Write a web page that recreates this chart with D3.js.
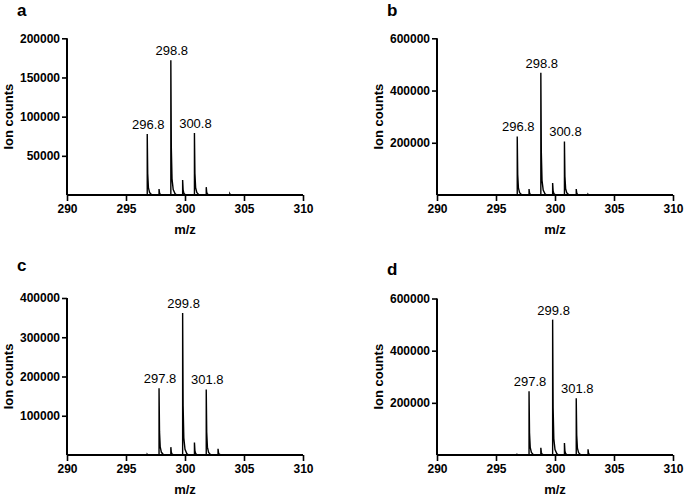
<!DOCTYPE html>
<html><head><meta charset="utf-8">
<script src="https://cdn.jsdelivr.net/npm/d3@7"></script>
<style>body{margin:0;background:#fff}svg{display:block}text{font-family:Arial,"Liberation Sans",sans-serif}</style>
</head><body><svg id="c" width="684" height="496"></svg>
<script>
const xTicks = [290, 295, 300, 305, 310];
const mzA = [296.8, 297.8, 298.8, 299.8, 300.8, 301.8, 303.8];
const intA = [78000, 7700, 172000, 19000, 79000, 10000, 1500];
const mzB = [296.8, 297.8, 298.8, 299.8, 300.8, 301.8, 302.8];
const intB = [224000, 23000, 468000, 46000, 205000, 23000, 3000];
const mzC = [296.8, 297.8, 298.8, 299.8, 300.8, 301.8, 302.8];
const intC = [2000, 170000, 20000, 362000, 32000, 167000, 16000];
const mzD = [296.8, 297.8, 298.8, 299.8, 300.8, 301.8, 302.8];
const intD = [2000, 244000, 28000, 519000, 46000, 218000, 22000];
const labelsA = ["296.8", "298.8", "300.8"];
const labelsB = ["296.8", "298.8", "300.8"];
const labelsC = ["297.8", "299.8", "301.8"];
const labelsD = ["297.8", "299.8", "301.8"];
const yTicksA = [50000, 100000, 150000, 200000];
const yTicksB = [200000, 400000, 600000];
const yTicksC = [100000, 200000, 300000, 400000];
const yTicksD = [200000, 400000, 600000];
const yMaxes = [200000, 600000, 400000, 600000];

const panels = [
  {letter:"a", mz:mzA, val:intA, labels:labelsA, yt:yTicksA, ymax:yMaxes[0], L:67, R:303, T:38.3, B:195, ly:15.5},
  {letter:"b", mz:mzB, val:intB, labels:labelsB, yt:yTicksB, ymax:yMaxes[1], L:437, R:673, T:38.3, B:195, ly:15.5},
  {letter:"c", mz:mzC, val:intC, labels:labelsC, yt:yTicksC, ymax:yMaxes[2], L:67, R:303, T:298, B:455, ly:271},
  {letter:"d", mz:mzD, val:intD, labels:labelsD, yt:yTicksD, ymax:yMaxes[3], L:437, R:673, T:298.5, B:455, ly:275}
];

// peak tail template (relative offset in m/z, fraction of height)
const tail = [[0,0],[0,1],[0.04,0.35],[0.1,0.12],[0.2,0.04],[0.35,0.01],[0.5,0]];

const svg = d3.select("#c");
panels.forEach(p => {
  const g = svg.append("g");
  const x = d3.scaleLinear().domain([290,310]).range([p.L,p.R]);
  const y = d3.scaleLinear().domain([0,p.ymax]).range([p.B,p.T]);
  // spectrum line
  const pts = [[290,0]];
  p.mz.forEach((m,i)=>{ tail.forEach(t=>pts.push([m+t[0], p.val[i]*t[1]])); });
  pts.push([310,0]);
  g.append("path").datum(pts)
    .attr("d", d3.line().x(d=>x(d[0])).y(d=>y(d[1])))
    .attr("fill","none").attr("stroke","#000").attr("stroke-width",1.4).attr("stroke-linejoin","miter");
  // axes
  const xa = g.append("g").attr("transform",`translate(0,${p.B})`)
    .call(d3.axisBottom(x).tickValues(xTicks).tickSize(6).tickPadding(3).tickFormat(d3.format("d")));
  const ya = g.append("g").attr("transform",`translate(${p.L},0)`)
    .call(d3.axisLeft(y).tickValues(p.yt).tickSize(5).tickPadding(2).tickFormat(d3.format("d")));
  [xa,ya].forEach(a=>{
    a.select(".domain").attr("stroke-width",2).attr("stroke","#000");
    a.selectAll(".tick line").attr("stroke-width",1.6).attr("stroke","#000");
    a.selectAll("text").attr("font-size",12).attr("font-weight","bold").attr("fill","#000")
      .style("font-family",'Arial,"Liberation Sans",sans-serif');
  });
  ya.select(".domain").attr("d",`M0,${p.B}V${p.T}`);
  xa.select(".domain").attr("d",`M${p.L},0H${p.R}`);
  // titles
  g.append("text").attr("x",(p.L+p.R)/2).attr("y",p.B+39).attr("text-anchor","middle")
    .attr("font-size",13).attr("font-weight","bold").text("m/z");
  g.append("text").attr("transform",`translate(${p.L-54},${(p.T+p.B)/2}) rotate(-90)`)
    .attr("text-anchor","middle").attr("font-size",13).attr("font-weight","bold").text("Ion counts");
  g.append("text").attr("x",p.L-50).attr("y",p.ly).attr("font-size",17).attr("font-weight","bold").text(p.letter);
  // peak labels
  p.labels.forEach(l=>{
    const i = p.mz.indexOf(+l);
    g.append("text").attr("x",x(+l)+1).attr("y",y(p.val[i])-5).attr("text-anchor","middle")
      .attr("font-size",13).text(l);
  });
});
</script></body></html>
